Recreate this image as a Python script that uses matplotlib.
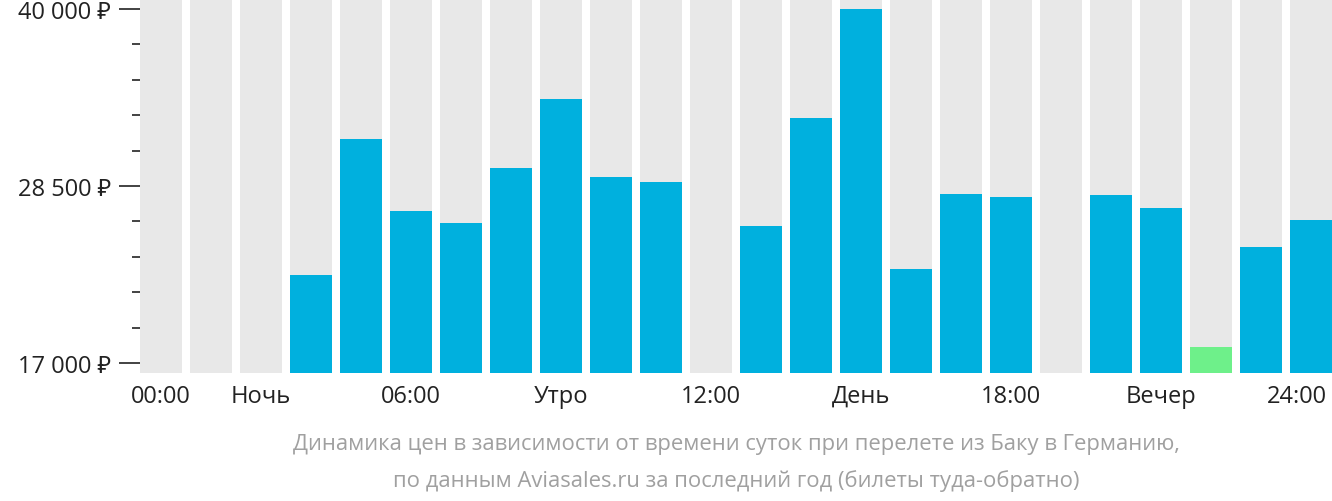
import matplotlib
matplotlib.use("Agg")
import matplotlib.pyplot as plt
import numpy as np

values = [None, None, None, 22720, 31560, 26880, 26100, 29675, 34160, 29090, 28765, None,
          25905, 32925, 40000, 23110, 27985, 27790, None, 27920, 27075, 18040, 24540, 26295]
colors = ["#00b0de"] * 24
colors[21] = "#6ef08a"
xtick_pos = [0, 2, 5, 8, 11, 14, 17, 20, 22.72]
xtick_labels = ["00:00", "Ночь", "06:00", "Утро", "12:00", "День", "18:00", "Вечер", "24:00"]
ymajor = [17000, 28500, 40000]
ymajor_labels = ["17 000 ₽", "28 500 ₽", "40 000 ₽"]

plt.rcParams["font.family"] = ["Open Sans", "Noto Sans", "DejaVu Sans"]
fig = plt.figure(figsize=(13.32, 5.02), dpi=100)
ax = fig.add_axes([140/1332, 1 - 374/502, 1 - 140/1332, 374/502])
ymin, ymax = 16350, 40650
x = np.arange(24)
w = 0.84
ax.bar(x, [ymax - ymin] * 24, bottom=ymin, width=w, color="#e8e8e8", zorder=1)
for i, v in enumerate(values):
    if v is not None:
        ax.bar(i, v - ymin, bottom=ymin, width=w, color=colors[i], zorder=2)
ax.set_xlim(-0.42, 23.42)
ax.set_ylim(ymin, ymax)
ax.set_yticks(ymajor)
ax.set_yticklabels(ymajor_labels, fontsize=17, color="#222222")
ax.set_yticks(np.arange(17000, 40001, 2300), minor=True)
ax.tick_params(axis="y", which="major", length=15, width=1.2, color="#222222", pad=6)
ax.tick_params(axis="y", which="minor", length=6, width=1.2, color="#222222")
ax.tick_params(axis="y", which="both", direction="out")
ax.set_xticks(xtick_pos)
ax.set_xticklabels(xtick_labels, fontsize=17, color="#222222")
ax.tick_params(axis="x", length=0, pad=8)
for s in ax.spines.values():
    s.set_visible(False)
fig.text(0.5 + 70/1332, 1 - 445/502, "Динамика цен в зависимости от времени суток при перелете из Баку в Германию,",
         ha="center", va="center", fontsize=15.8, color="#a0a0a0")
fig.text(0.5 + 70/1332, 1 - 481/502, "по данным Aviasales.ru за последний год (билеты туда-обратно)",
         ha="center", va="center", fontsize=15.8, color="#a0a0a0")
fig.savefig("out.png", dpi=100)
